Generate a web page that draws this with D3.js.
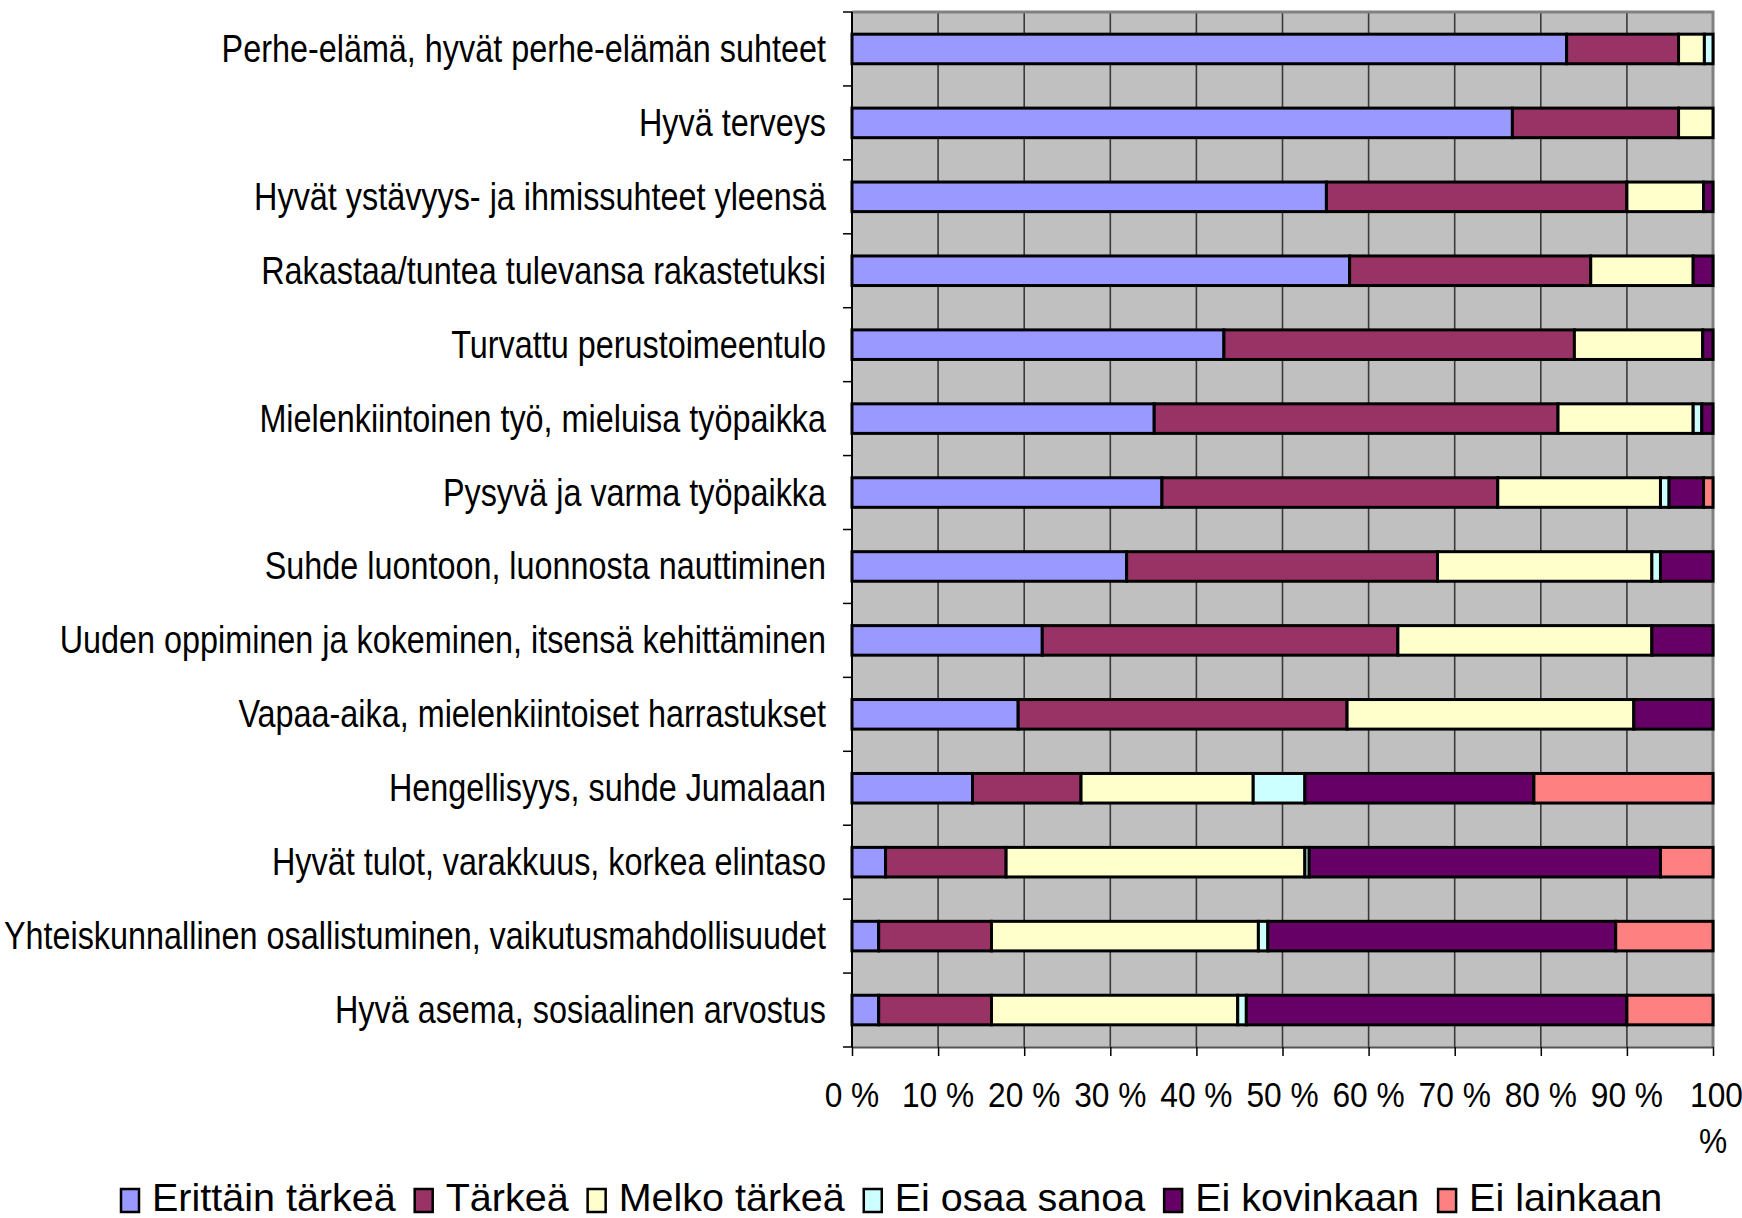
<!DOCTYPE html>
<html>
<head>
<meta charset="utf-8">
<script src="https://cdn.jsdelivr.net/npm/d3@7"></script>
<style>
  body { margin: 0; background: #fff; }
  svg { display: block; font-family: "Liberation Sans", Arial, sans-serif; }
</style>
</head>
<body>
<svg id="chart" width="1742" height="1218"></svg>
<script>
// categories, top to bottom
const categories = [
  "Perhe-elämä, hyvät perhe-elämän suhteet",
  "Hyvä terveys",
  "Hyvät ystävyys- ja ihmissuhteet yleensä",
  "Rakastaa/tuntea tulevansa rakastetuksi",
  "Turvattu perustoimeentulo",
  "Mielenkiintoinen työ, mieluisa työpaikka",
  "Pysyvä ja varma työpaikka",
  "Suhde luontoon, luonnosta nauttiminen",
  "Uuden oppiminen ja kokeminen, itsensä kehittäminen",
  "Vapaa-aika, mielenkiintoiset harrastukset",
  "Hengellisyys, suhde Jumalaan",
  "Hyvät tulot, varakkuus, korkea elintaso",
  "Yhteiskunnallinen osallistuminen, vaikutusmahdollisuudet",
  "Hyvä asema, sosiaalinen arvostus"
];

const seriesNames = ["Erittäin tärkeä", "Tärkeä", "Melko tärkeä", "Ei osaa sanoa", "Ei kovinkaan", "Ei lainkaan"];
const seriesColors = ["#9999FF", "#993366", "#FFFFCC", "#CCFFFF", "#660066", "#FF8080"];

// percentages per series, same order as categories
const erittainTarkea = [83, 76.7, 55.1, 57.8, 43.2, 35.1, 36, 31.9, 22.1, 19.3, 14, 3.9, 3.1, 3.1];
const tarkea         = [13, 19.3, 34.9, 28, 40.7, 46.9, 39, 36.1, 41.3, 38.2, 12.6, 14, 13.1, 13.1];
const melkoTarkea    = [3, 4, 8.9, 11.9, 14.9, 15.7, 18.9, 24.9, 29.5, 33.3, 20, 34.7, 31, 28.6];
const eiOsaaSanoa    = [1, 0, 0, 0, 0, 1, 1, 1, 0, 0, 6, 0.5, 1.1, 1];
const eiKovinkaan    = [0, 0, 1.1, 2.3, 1.2, 1.3, 4, 6.1, 7.1, 9.2, 26.6, 40.8, 40.4, 44.2];
const eiLainkaan     = [0, 0, 0, 0, 0, 0, 1.1, 0, 0, 0, 20.8, 6.1, 11.3, 10];

const xTicks = [0, 10, 20, 30, 40, 50, 60, 70, 80, 90, 100];

const allSeries = [erittainTarkea, tarkea, melkoTarkea, eiOsaaSanoa, eiKovinkaan, eiLainkaan];
const rows = categories.map((c, i) => {
  const r = { cat: c };
  seriesNames.forEach((s, j) => r[s] = allSeries[j][i]);
  return r;
});

const svg = d3.select("#chart");
const plot = { left: 852, right: 1713, top: 12, bottom: 1047 };

const x = d3.scaleLinear().domain([0, 100]).range([plot.left, plot.right]);
const y = d3.scaleBand().domain(categories).range([plot.top, plot.bottom]).paddingInner(0.6).paddingOuter(0.3);
const yOuter = d3.scaleBand().domain(categories).range([plot.top, plot.bottom]);

// plot background
svg.append("rect")
  .attr("x", plot.left).attr("y", plot.top)
  .attr("width", plot.right - plot.left).attr("height", plot.bottom - plot.top)
  .attr("fill", "#C0C0C0");

// vertical gridlines
svg.append("g").selectAll("line")
  .data(xTicks.slice(1, -1))
  .join("line")
  .attr("x1", d => x(d)).attr("x2", d => x(d))
  .attr("y1", plot.top).attr("y2", plot.bottom)
  .attr("stroke", "#3a3a3a").attr("stroke-width", 1.6);

// top and right border
svg.append("path")
  .attr("d", `M${plot.left},${plot.top}H${plot.right}V${plot.bottom}`)
  .attr("fill", "none").attr("stroke", "#808080").attr("stroke-width", 3);

// stacked bars
const stack = d3.stack().keys(seriesNames)(rows);
svg.append("g").selectAll("g")
  .data(stack)
  .join("g")
  .attr("fill", (d, i) => seriesColors[i])
  .selectAll("rect")
  .data(d => d.filter(p => p[1] - p[0] > 0))
  .join("rect")
  .attr("x", d => x(d[0]))
  .attr("width", d => x(d[1]) - x(d[0]))
  .attr("y", d => y(d.data.cat))
  .attr("height", y.bandwidth())
  .attr("stroke", "#000")
  .attr("stroke-width", 3);

// left axis with ticks at category boundaries
const bounds = categories.map(c => yOuter(c)).concat([plot.bottom]);
const leftAxis = svg.append("g");
leftAxis.append("line")
  .attr("x1", plot.left).attr("x2", plot.left)
  .attr("y1", plot.top).attr("y2", plot.bottom)
  .attr("stroke", "#000").attr("stroke-width", 2);
leftAxis.selectAll(".tk")
  .data(bounds)
  .join("line")
  .attr("x1", plot.left - 9).attr("x2", plot.left)
  .attr("y1", d => d).attr("y2", d => d)
  .attr("stroke", "#000").attr("stroke-width", 1.5);

// category labels
svg.append("g").selectAll("text")
  .data(categories)
  .join("text")
  .attr("transform", d => `translate(826,${yOuter(d) + yOuter.bandwidth() / 2 + 13}) scale(0.83,1)`)
  .attr("text-anchor", "end")
  .attr("font-size", 39)
  .attr("fill", "#000")
  .text(d => d);

// bottom axis
const bottomAxis = svg.append("g")
  .attr("transform", `translate(0,${plot.bottom})`)
  .call(d3.axisBottom(x).tickValues(xTicks).tickSize(9).tickSizeOuter(0).tickFormat(""));
bottomAxis.select(".domain").attr("stroke", "#555").attr("stroke-width", 2);
bottomAxis.selectAll(".tick line").attr("stroke", "#000").attr("stroke-width", 1.5);

// tick labels
const tl = svg.append("g").selectAll("text")
  .data(xTicks)
  .join("text")
  .attr("transform", d => `translate(${x(d)},1107) scale(0.88,1)`)
  .attr("text-anchor", "middle")
  .attr("font-size", 36)
  .attr("fill", "#000");
tl.filter(d => d < 100).text(d => d + " %");
tl.filter(d => d === 100).each(function () {
  const t = d3.select(this);
  t.append("tspan").attr("x", 0).attr("dx", 4).text("100");
  t.append("tspan").attr("x", 0).attr("dy", 46).text("%");
});

// legend
const legend = svg.append("g");
let lx = 121;
seriesNames.forEach((s, i) => {
  legend.append("rect")
    .attr("x", lx).attr("y", 1189)
    .attr("width", 18).attr("height", 23)
    .attr("fill", seriesColors[i])
    .attr("stroke", "#000").attr("stroke-width", 2.5);
  const t = legend.append("text")
    .attr("x", lx + 31).attr("y", 1211)
    .attr("font-size", 39.5)
    .attr("fill", "#000")
    .text(s);
  lx = lx + 31 + t.node().getComputedTextLength() + 19;
});
</script>
</body>
</html>
